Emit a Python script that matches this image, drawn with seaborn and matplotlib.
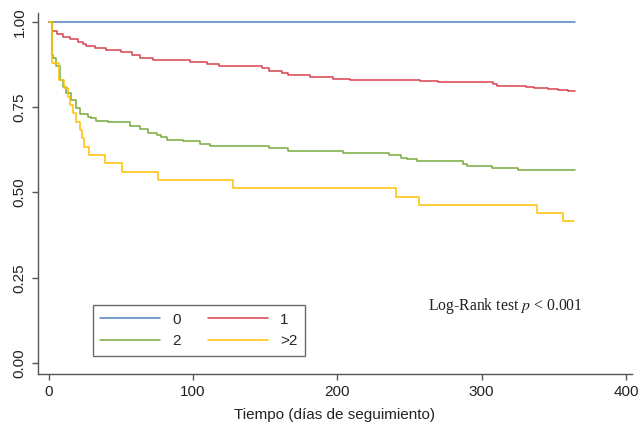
import pandas as pd
import seaborn as sns
import matplotlib.pyplot as plt
from matplotlib.lines import Line2D

# curvas de Kaplan-Meier: tiempo (dias) y supervivencia
t0 = [0, 365]
s0 = [1.0, 1.0]

t1 = [0, 2, 6, 10, 15, 20, 24, 26, 32, 40, 50, 58, 63, 72, 98, 110, 118, 148, 153,
      162, 166, 181, 197, 209, 257, 270, 308, 311, 331, 336, 346, 353, 360, 365]
s1 = [1.0, 0.972, 0.965, 0.956, 0.950, 0.942, 0.935, 0.928, 0.924, 0.918, 0.912, 0.903,
      0.894, 0.889, 0.883, 0.876, 0.870, 0.864, 0.857, 0.850, 0.843, 0.837, 0.833, 0.829,
      0.826, 0.823, 0.818, 0.813, 0.808, 0.805, 0.802, 0.799, 0.796, 0.796]

t2 = [0, 2, 3, 5, 7.5, 10, 12, 15.5, 19, 21.5, 27, 29, 33, 41, 56, 63, 69, 75, 78, 82,
      93, 105, 112, 153, 166, 204, 236, 244, 248, 255, 287, 290, 307, 325, 365]
s2 = [1.0, 0.903, 0.894, 0.869, 0.829, 0.810, 0.790, 0.771, 0.747, 0.731, 0.721, 0.717,
      0.710, 0.705, 0.694, 0.685, 0.673, 0.668, 0.661, 0.655, 0.650, 0.643, 0.636, 0.629,
      0.621, 0.616, 0.609, 0.602, 0.597, 0.591, 0.584, 0.578, 0.572, 0.565, 0.565]

t3 = [0, 2.5, 7, 10.5, 13.4, 14.6, 16.8, 18.7, 21.5, 23, 24.5, 28, 39, 51, 76, 127.6,
      240.6, 256.7, 338.5, 356.5, 364]
s3 = [1.0, 0.878, 0.829, 0.805, 0.780, 0.756, 0.732, 0.707, 0.683, 0.659, 0.634, 0.610,
      0.585, 0.561, 0.537, 0.512, 0.488, 0.463, 0.439, 0.415, 0.415]

grupos = ["0", "1", "2", ">2"]
colores = ["#4f81bd", "#d9434e", "#77aa3c", "#ffc000"]

frames = []
for g, t, s in zip(grupos, [t0, t1, t2, t3], [s0, s1, s2, s3]):
    frames.append(pd.DataFrame({"dias": t, "surv": s, "grupo": g}))
df = pd.concat(frames, ignore_index=True)

sns.set_style("white")
plt.rcParams["font.family"] = ["Liberation Sans", "DejaVu Sans"]
plt.rcParams["mathtext.fontset"] = "stix"

fig = plt.figure(figsize=(6.4, 4.28), dpi=100)
ax = fig.add_axes([0.059, 0.126, 0.928, 0.844])

paleta = dict(zip(grupos, colores))
sns.lineplot(data=df, x="dias", y="surv", hue="grupo", hue_order=grupos,
             palette=paleta, drawstyle="steps-post", estimator=None,
             linewidth=1.1, legend=False, ax=ax)

ax.set_xlim(-7.6, 404)
ax.set_ylim(-0.032, 1.026)
ax.set_xticks([0, 100, 200, 300, 400])
ax.set_yticks([0, 0.25, 0.5, 0.75, 1.0])
ax.set_yticklabels(["0.00", "0.25", "0.50", "0.75", "1.00"])
ax.tick_params(axis="both", labelsize=11, length=4, width=1, color="#555555",
               labelcolor="#222222", direction="out", pad=4,
               bottom=True, left=True)
ax.tick_params(axis="y", labelrotation=90)
for lab in ax.get_yticklabels():
    lab.set_va("center")

ax.set_xlabel("Tiempo (días de seguimiento)", fontsize=11, color="#222222", labelpad=6)
ax.set_ylabel("")

for lado in ["top", "right"]:
    ax.spines[lado].set_visible(False)
for lado in ["left", "bottom"]:
    ax.spines[lado].set_color("#555555")
    ax.spines[lado].set_linewidth(1)

# leyenda en dos columnas: 0, 1 / 2, >2
orden = ["0", "2", "1", ">2"]
handles = [Line2D([0], [0], color=paleta[g], lw=1.1) for g in orden]
leg = ax.legend(handles, orden, ncol=2, loc="lower left",
                bbox_to_anchor=(0.0926, 0.05, 0.357, 0.177), mode="expand",
                fontsize=11, frameon=True, fancybox=False, edgecolor="#444444",
                handlelength=3.9, handletextpad=0.8, columnspacing=1.5,
                borderaxespad=0, borderpad=0.5, labelspacing=0.5)
leg.get_frame().set_linewidth(1)

ax.text(263, 0.168, "Log-Rank test $p$ < 0.001", fontsize=11.3,
        family=["Liberation Serif", "DejaVu Serif"], va="center", ha="left",
        color="#222222")

fig.savefig("out.png", dpi=100)
